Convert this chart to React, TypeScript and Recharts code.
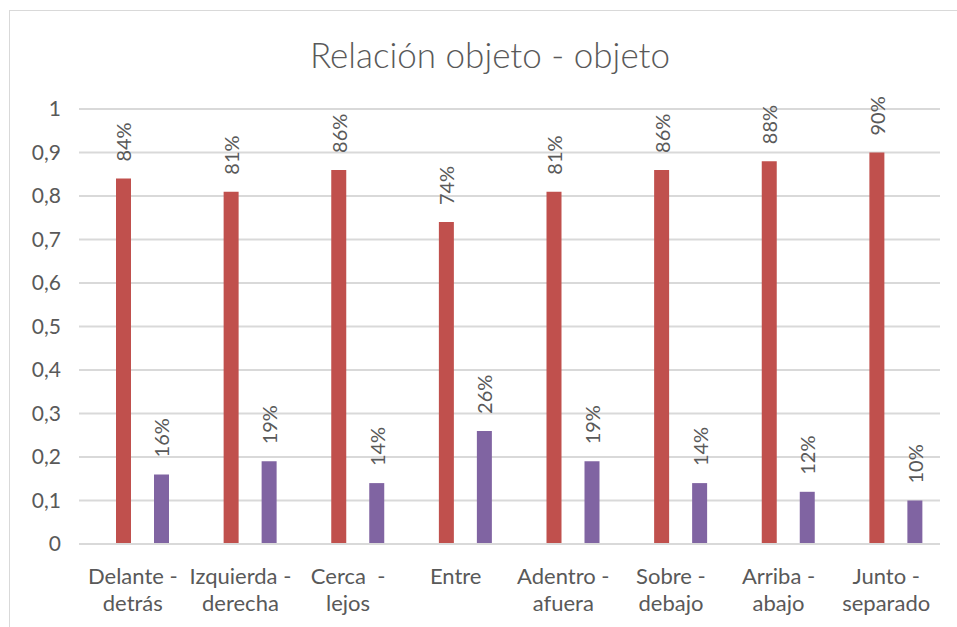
import React from "react";
import { BarChart, Bar, XAxis, YAxis, CartesianGrid, LabelList } from "recharts";

const categories = [
  "Delante -\ndetrás",
  "Izquierda -\nderecha",
  "Cerca  -\nlejos",
  "Entre",
  "Adentro -\nafuera",
  "Sobre -\ndebajo",
  "Arriba -\nabajo",
  "Junto -\nseparado",
];
const redValues = [0.84, 0.81, 0.86, 0.74, 0.81, 0.86, 0.88, 0.9];
const purpleValues = [0.16, 0.19, 0.14, 0.26, 0.19, 0.14, 0.12, 0.1];
const yTicks = [0, 0.1, 0.2, 0.3, 0.4, 0.5, 0.6, 0.7, 0.8, 0.9, 1];
const title = "Relación objeto - objeto";

const data = categories.map((c, i) => ({
  name: c,
  red: redValues[i],
  purple: purpleValues[i],
}));

const FONT = "Lato, 'Open Sans', sans-serif";
const TEXT = "#595959";

const XTick = (props: any) => {
  const { x, y, payload } = props;
  const lines = String(payload.value).split("\n");
  return (
    <g>
      {lines.map((l, i) => (
        <text
          key={i}
          x={x}
          y={y + 32 + i * 27}
          textAnchor="middle"
          fill={TEXT}
          fontSize={22}
          fontFamily={FONT}
          style={{ whiteSpace: "pre" }}
        >
          {l}
        </text>
      ))}
    </g>
  );
};

const RotLabel = (props: any) => {
  const { x, y, width, value } = props;
  if (value == null) return null;
  const cx = x + width / 2;
  const ty = y - 17;
  return (
    <text
      x={cx}
      y={ty}
      transform={`rotate(-90 ${cx} ${ty})`}
      textAnchor="start"
      dominantBaseline="central"
      fill={TEXT}
      fontSize={20}
      fontFamily={FONT}
    >
      {Math.round(value * 100) + "%"}
    </text>
  );
};

export default function App() {
  return (
    <div
      style={{
        position: "absolute",
        left: 0,
        top: 0,
        width: 957,
        height: 627,
        background: "#fff",
        overflow: "hidden",
        fontFamily: FONT,
      }}
    >
      <div
        style={{
          position: "absolute",
          left: 9,
          top: 10,
          width: 1000,
          height: 700,
          border: "1px solid #d9d9d9",
          boxSizing: "border-box",
        }}
      />
      <div
        style={{
          position: "absolute",
          left: 0,
          top: 32,
          width: 980,
          textAlign: "center",
          fontSize: 35,
          fontWeight: 300,
          color: TEXT,
          fontFamily: FONT,
          lineHeight: "44px",
        }}
      >
        {title}
      </div>
      <div style={{ position: "absolute", left: 0, top: 0 }}>
        <BarChart
          width={957}
          height={627}
          data={data}
          margin={{ top: 109, right: 17, bottom: 23, left: 0 }}
          barCategoryGap={0}
        >
          <CartesianGrid vertical={false} stroke="#d9d9d9" strokeWidth={2} />
          <XAxis
            dataKey="name"
            axisLine={{ stroke: "#d9d9d9", strokeWidth: 2 }}
            tickLine={false}
            height={60}
            interval={0}
            tick={<XTick />}
          />
          <YAxis
            domain={[0, 1]}
            ticks={yTicks}
            width={79}
            axisLine={false}
            tickLine={false}
            tickSize={0}
            tickMargin={18}
            interval={0}
            tickFormatter={(v: number) => String(v).replace(".", ",")}
            tick={{ fill: TEXT, fontSize: 21, fontFamily: FONT }}
          />
          <Bar dataKey="blank1" barSize={15} fill="#4F81BD" isAnimationActive={false} />
          <Bar dataKey="red" barSize={15} fill="#C0504D" isAnimationActive={false}>
            <LabelList dataKey="red" content={<RotLabel />} />
          </Bar>
          <Bar dataKey="blank2" barSize={15} fill="#9BBB59" isAnimationActive={false} />
          <Bar dataKey="purple" barSize={15} fill="#8064A2" isAnimationActive={false}>
            <LabelList dataKey="purple" content={<RotLabel />} />
          </Bar>
        </BarChart>
      </div>
    </div>
  );
}
